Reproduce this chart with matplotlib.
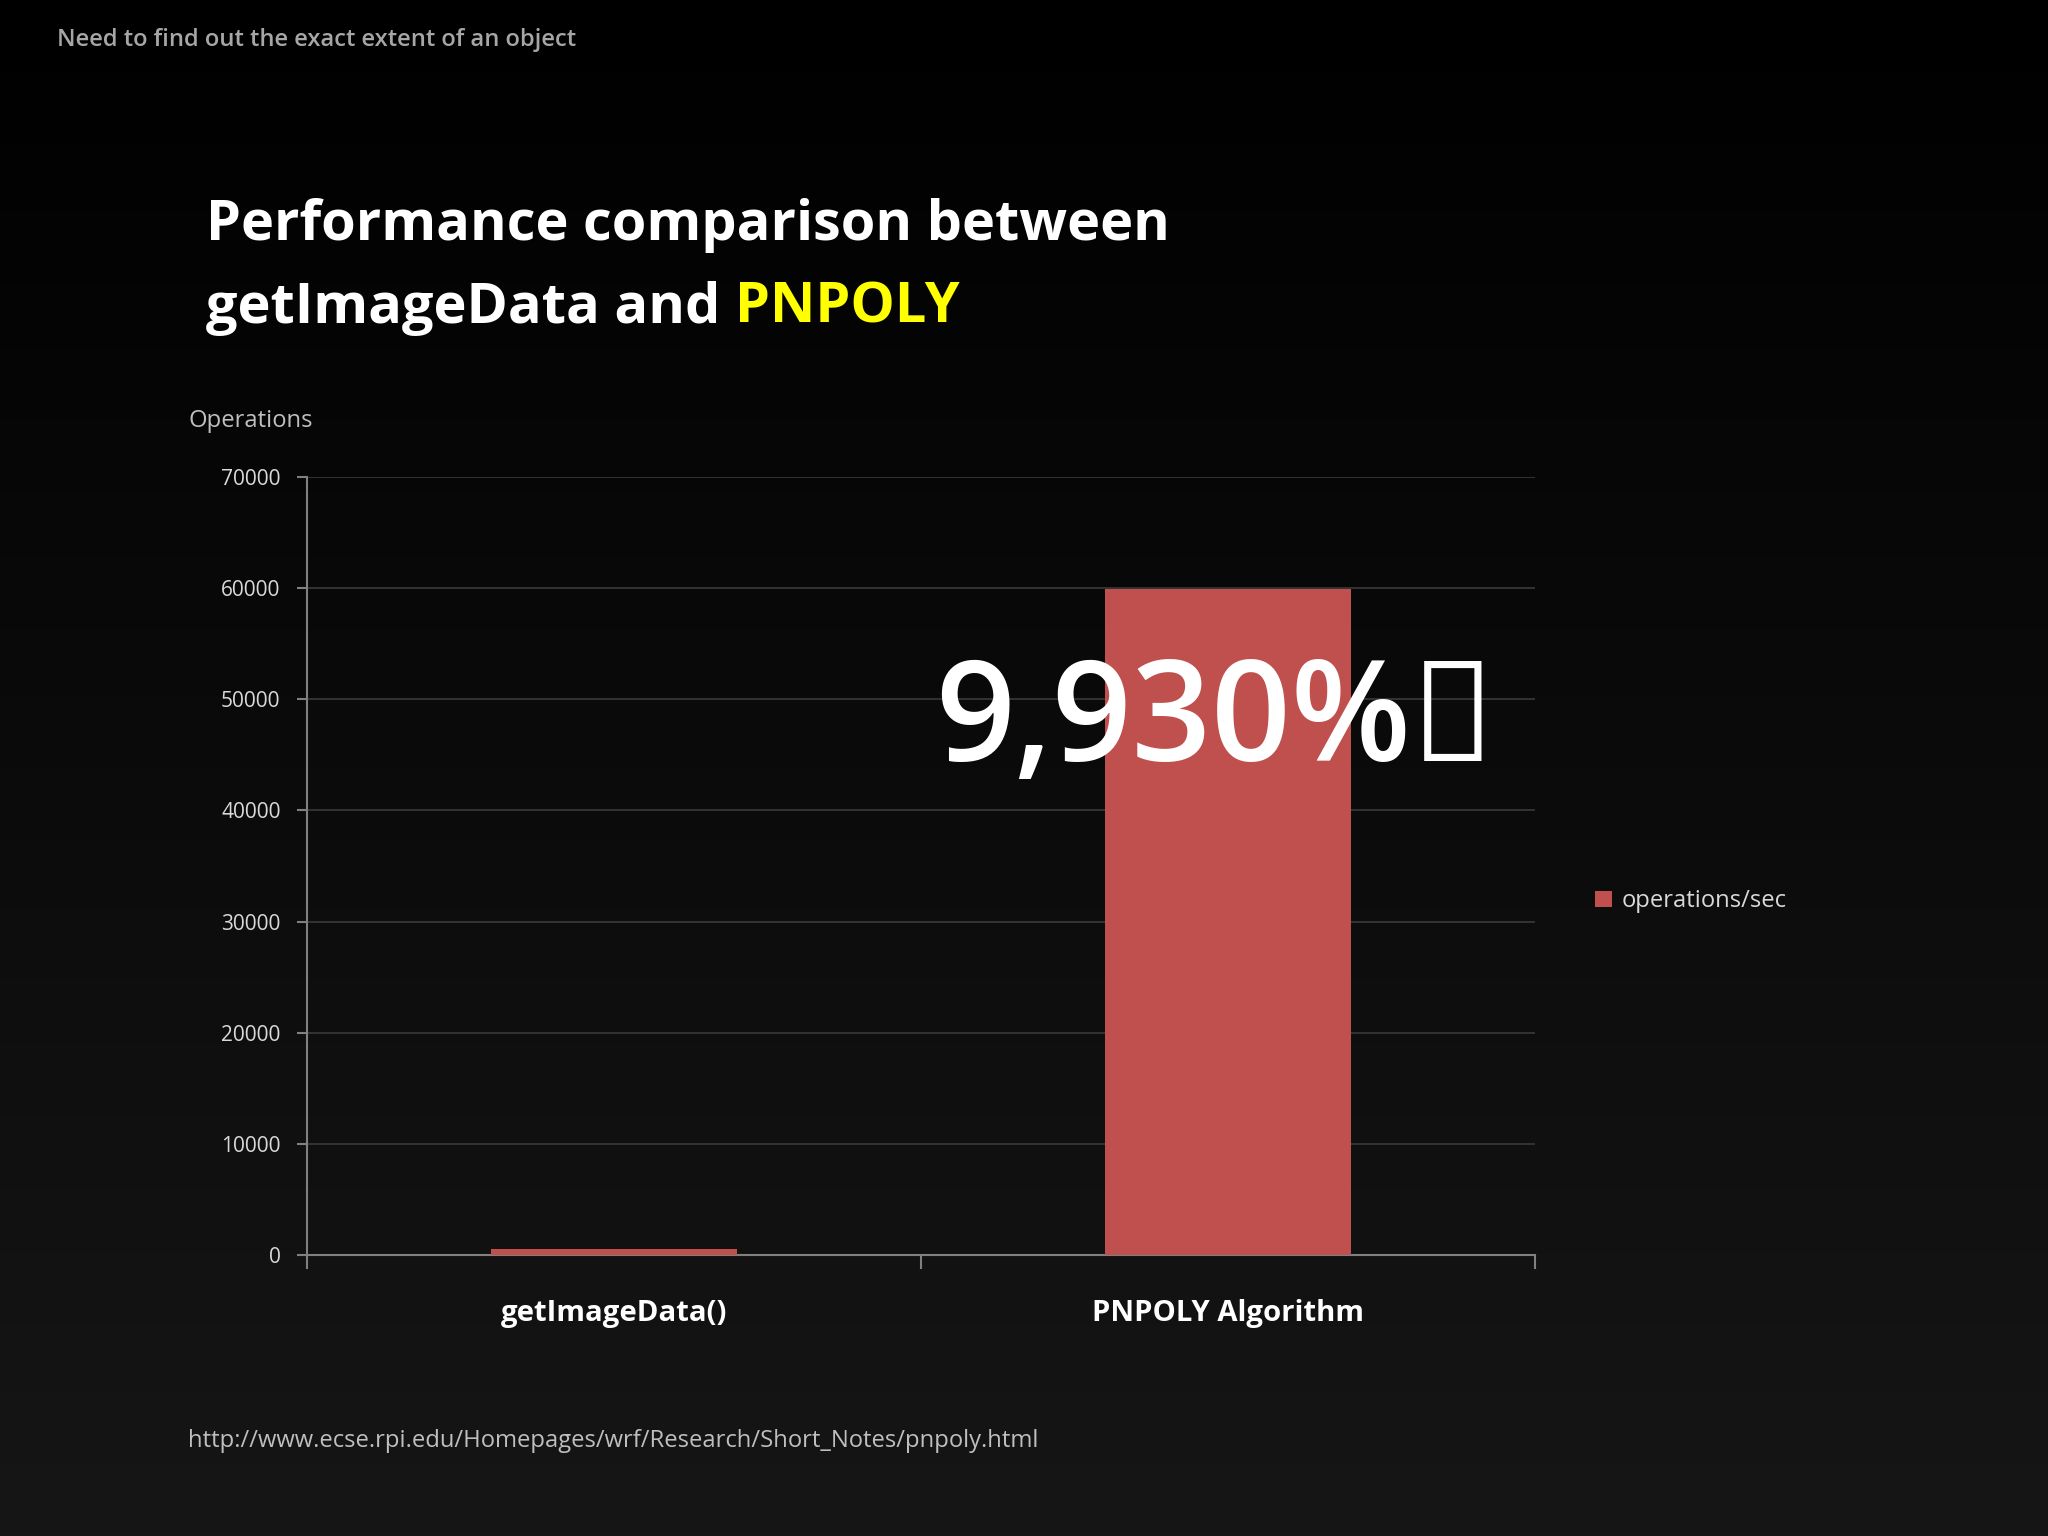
import matplotlib
matplotlib.use("Agg")
import matplotlib.pyplot as plt
import numpy as np

categories = ["getImageData()", "PNPOLY Algorithm"]
ops_per_sec = [597, 59900]
series_name = "operations/sec"
yticks = [0, 10000, 20000, 30000, 40000, 50000, 60000, 70000]

plt.rcParams["font.family"] = "Open Sans"
W, H = 1568.0, 1176.0
fig = plt.figure(figsize=(20.48, 15.36), dpi=100)
s = 2048 / W  # scale for font sizes measured on 1568 wide

# gradient background
bg = fig.add_axes([0, 0, 1, 1])
grad = np.linspace(0, 1, 256).reshape(-1, 1)
from matplotlib.colors import LinearSegmentedColormap
cmap = LinearSegmentedColormap.from_list("bg", ["#000000", "#161616"])
bg.imshow(grad, aspect="auto", cmap=cmap, extent=[0, 1, 0, 1], origin="upper")
bg.set_axis_off()

ax = fig.add_axes([235 / W, 1 - 961 / H, 940 / W, 596 / H])
ax.patch.set_alpha(0)
ax.bar(range(len(categories)), ops_per_sec, width=0.4, color="#c0504d", label=series_name, zorder=3)
ax.set_xlim(-0.5, 1.5)
ax.set_ylim(0, 70000)
ax.set_yticks(yticks)
ax.set_yticklabels([str(v) for v in yticks], color="#d9d9d9", fontsize=15 * s / 1.3)
ax.yaxis.grid(True, color="#3a3a3a", lw=1.2)
ax.set_axisbelow(True)
ax.set_xticks([-0.5, 0.5, 1.5])
ax.set_xticklabels([])
ax.tick_params(axis="x", length=10, color="#808080", width=1.5)
ax.tick_params(axis="y", length=7, color="#808080", width=1.5, pad=12)
for i, c in enumerate(categories):
    ax.text(i, -0.075, c, transform=ax.get_xaxis_transform(), ha="center", va="center",
            color="white", fontsize=21 * s / 1.3, fontweight="bold")
for sp in ["top", "right"]:
    ax.spines[sp].set_visible(False)
for sp in ["left", "bottom"]:
    ax.spines[sp].set_color("#808080")
    ax.spines[sp].set_linewidth(1.5)

leg = fig.legend(loc="center left", bbox_to_anchor=(1205 / W, 1 - 690 / H), frameon=False,
                 fontsize=17 * s / 1.3, handlelength=0.7, handleheight=0.7, handletextpad=0.4)
for t in leg.get_texts():
    t.set_color("#d9d9d9")

fig.text(44 / W, 1 - 31 / H, "Need to find out the exact extent of an object", color="#a6a6a6",
         fontsize=17 * s / 1.3, va="center", fontweight="semibold")
fig.text(158 / W, 1 - 173 / H, "Performance comparison between", color="white",
         fontsize=40 * s / 1.3, va="center", fontweight="bold")
t1 = fig.text(158 / W, 1 - 236 / H, "getImageData and ", color="white",
              fontsize=40 * s / 1.3, va="center", fontweight="bold")
fig.canvas.draw()
bb = t1.get_window_extent()
fig.text(bb.x1 / fig.bbox.width, 1 - 236 / H, "PNPOLY", color="#ffff00",
         fontsize=40 * s / 1.3, va="center", fontweight="bold")
fig.text(144 / W, 1 - 322 / H, "Operations", color="#bfbfbf", fontsize=17 * s / 1.3, va="center")
fig.text(930 / W, 1 - 555 / H, "9,930%\u2191", color="white", fontsize=100 * s / 1.3,
         ha="center", va="center", fontweight="semibold")
fig.text(144 / W, 1 - 1103 / H, "http://www.ecse.rpi.edu/Homepages/wrf/Research/Short_Notes/pnpoly.html",
         color="#bfbfbf", fontsize=17 * s / 1.3, va="center")

fig.savefig("out.png", dpi=100)
